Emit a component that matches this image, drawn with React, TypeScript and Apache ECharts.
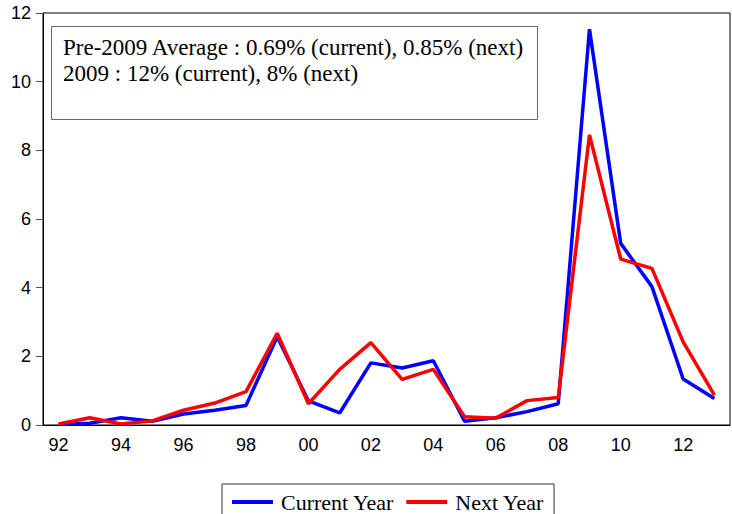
import React, { useEffect, useRef } from "react";
import * as echarts from "echarts";

// Years 1992–2013 shown as two-digit labels
const years = [
  "92", "93", "94", "95", "96", "97", "98", "99", "00", "01", "02",
  "03", "04", "05", "06", "07", "08", "09", "10", "11", "12", "13",
];

const currentYear = [
  0.03, 0.05, 0.21, 0.11, 0.32, 0.43, 0.57, 2.57, 0.7, 0.35, 1.81,
  1.66, 1.87, 0.11, 0.21, 0.39, 0.62, 11.53, 5.29, 4.03, 1.34, 0.77,
];

const nextYear = [
  0.03, 0.21, 0.03, 0.12, 0.43, 0.64, 0.97, 2.67, 0.62, 1.62, 2.4,
  1.33, 1.62, 0.24, 0.2, 0.71, 0.8, 8.45, 4.83, 4.56, 2.42, 0.87,
];

const yTicks = { min: 0, max: 12, interval: 2 };

const noteLines = [
  "Pre-2009 Average : 0.69% (current), 0.85% (next)",
  "2009 : 12% (current), 8% (next)",
];

const serif = "'Liberation Serif', 'Times New Roman', serif";
const sans = "'Liberation Sans', Arial, sans-serif";

export default function App() {
  const ref = useRef<HTMLDivElement>(null);

  useEffect(() => {
    if (!ref.current) return;
    const chart = echarts.init(ref.current, null, { renderer: "svg" });
    chart.setOption({
      animation: false,
      backgroundColor: "#ffffff",
      grid: {
        left: 43,
        right: 2,
        top: 13,
        bottom: 89,
        show: true,
        borderColor: "#000",
        borderWidth: 1,
        containLabel: false,
      },
      legend: {
        left: 222,
        top: 484,
        orient: "horizontal",
        borderColor: "#333",
        borderWidth: 1,
        padding: [7, 10, 8, 10],
        itemWidth: 41,
        itemHeight: 4,
        itemGap: 12,
        icon: "rect",
        textStyle: {
          fontFamily: serif,
          fontSize: 22,
          color: "#000",
          padding: [0, 0, 0, 3],
        },
        data: ["Current Year", "Next Year"],
      },
      xAxis: {
        type: "category",
        data: years,
        boundaryGap: true,
        axisLine: { lineStyle: { color: "#000", width: 1 } },
        axisTick: {
          interval: 0,
          alignWithLabel: false,
          length: 6,
          lineStyle: { color: "#000" },
        },
        axisLabel: {
          interval: 1,
          margin: 11,
          fontFamily: sans,
          fontSize: 18,
          color: "#000",
        },
        splitLine: { show: false },
      },
      yAxis: {
        type: "value",
        min: yTicks.min,
        max: yTicks.max,
        interval: yTicks.interval,
        axisLine: { show: true, lineStyle: { color: "#000", width: 1 } },
        axisTick: { show: true, length: 7, lineStyle: { color: "#555" } },
        axisLabel: {
          margin: 12,
          fontFamily: sans,
          fontSize: 18,
          color: "#000",
        },
        splitLine: { show: false },
      },
      series: [
        {
          name: "Current Year",
          type: "line",
          data: currentYear,
          symbol: "none",
          lineStyle: { color: "#0000ff", width: 3.5 },
          itemStyle: { color: "#0000ff" },
        },
        {
          name: "Next Year",
          type: "line",
          data: nextYear,
          symbol: "none",
          lineStyle: { color: "#ff0000", width: 3.5 },
          itemStyle: { color: "#ff0000" },
        },
      ],
      graphic: [
        {
          type: "rect",
          left: 51,
          top: 26,
          shape: { width: 486, height: 93 },
          style: { fill: "#fff", stroke: "#666", lineWidth: 1 },
          z: 100,
        },
        ...noteLines.map((t, i) => ({
          type: "text",
          left: 63,
          top: 36 + i * 26,
          style: {
            text: t,
            font: `23px ${serif}`,
            fill: "#000",
          },
          z: 101,
        })),
      ],
    });
    return () => chart.dispose();
  }, []);

  return (
    <div
      ref={ref}
      style={{ position: "fixed", left: 0, top: 0, width: 732, height: 514 }}
    />
  );
}
